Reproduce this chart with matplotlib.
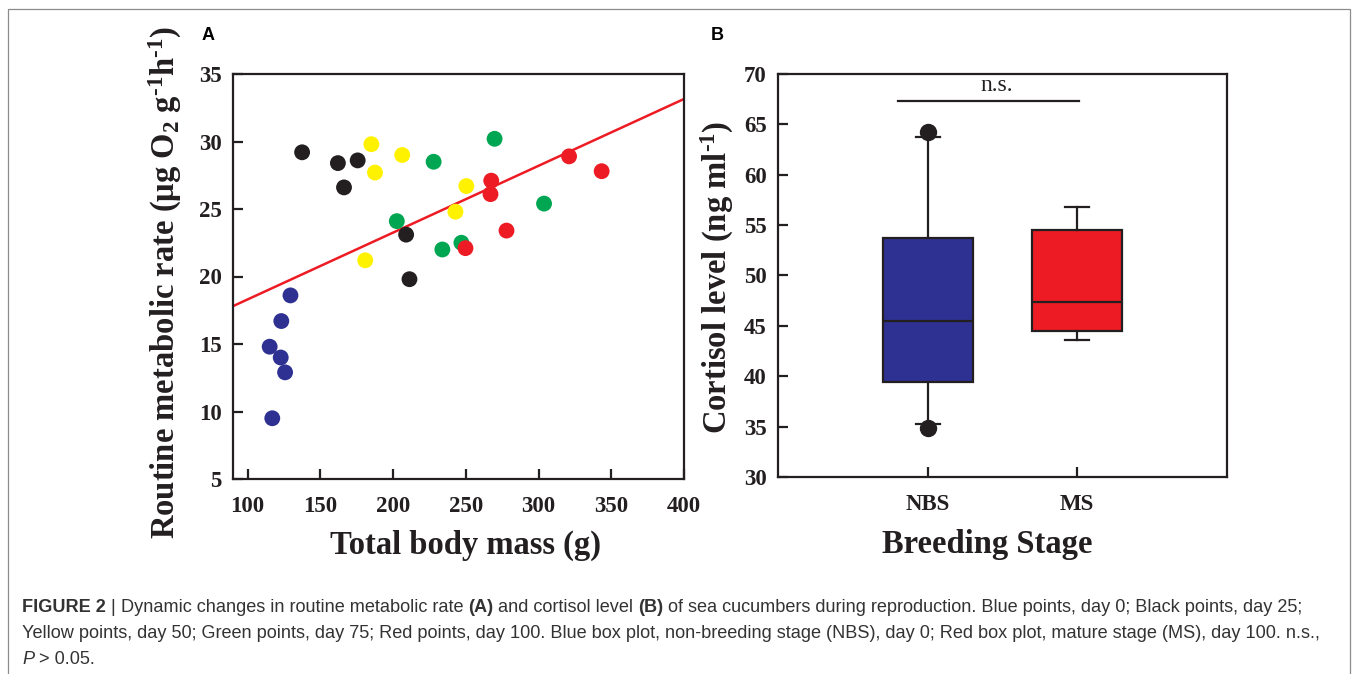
import numpy as np
import matplotlib
matplotlib.use('Agg')
import matplotlib.pyplot as plt
from matplotlib.patches import Rectangle

# Panel A data: total body mass (g) vs routine metabolic rate
mass_day0 = [115.2, 122.8, 125.8, 123.2, 129.5, 117.0]
rate_day0 = [14.8, 14.0, 12.9, 16.7, 18.6, 9.5]
mass_day25 = [137.5, 162.1, 175.7, 166.3, 209.0, 211.3]
rate_day25 = [29.2, 28.4, 28.6, 26.6, 23.1, 19.8]
mass_day50 = [185.1, 206.3, 187.6, 250.4, 242.9, 180.9]
rate_day50 = [29.8, 29.0, 27.7, 26.7, 24.8, 21.2]
mass_day75 = [269.8, 227.9, 202.6, 233.9, 247.0, 303.8]
rate_day75 = [30.2, 28.5, 24.1, 22.0, 22.5, 25.4]
mass_day100 = [321.0, 343.4, 267.5, 267.0, 278.0, 249.8]
rate_day100 = [28.9, 27.8, 27.1, 26.1, 23.4, 22.1]
fit_slope = 0.0495
fit_intercept = 13.35

# Panel B data: cortisol box plot summaries
stages = ['NBS', 'MS']
box_q1 = [39.4, 44.5]
box_med = [45.5, 47.4]
box_q3 = [53.7, 54.5]
whisker_lo = [35.3, 43.6]
whisker_hi = [63.7, 56.75]
outliers = [[64.2, 34.85], []]
ns_level = 67.3

BLUE = '#2E3192'
BLACK = '#231F20'
YELLOW = '#FFF200'
GREEN = '#00A651'
RED = '#ED1C24'

plt.rcParams['mathtext.fontset'] = 'custom'
plt.rcParams['mathtext.rm'] = 'Liberation Serif:bold'
plt.rcParams['mathtext.it'] = 'Liberation Serif:bold'
plt.rcParams['mathtext.bf'] = 'Liberation Serif:bold'

W, H = 1358, 674
fig = plt.figure(figsize=(W / 100, H / 100), dpi=100)

def fx(px):
    return px / W

def fy(py):
    return 1 - py / H

serif = 'Liberation Serif'
tick_fs = 16.5
label_fs = 23.5

def style_axes(ax):
    for s in ax.spines.values():
        s.set_linewidth(1.6)
        s.set_color(BLACK)
    ax.tick_params(direction='in', length=7, width=1.6, top=False, right=False,
                   labelsize=tick_fs, colors=BLACK, pad=8)
    for lab in ax.get_xticklabels() + ax.get_yticklabels():
        lab.set_fontfamily(serif)
        lab.set_fontweight('bold')

# ---- Panel A ----
axA = fig.add_axes([fx(233), fy(479), fx(684) - fx(233), fy(74) - fy(479)])
groups = [(mass_day0, rate_day0, BLUE), (mass_day25, rate_day25, BLACK),
          (mass_day50, rate_day50, YELLOW), (mass_day75, rate_day75, GREEN),
          (mass_day100, rate_day100, RED)]
for m, r, c in groups:
    axA.scatter(m, r, s=130, color=c, edgecolors='none', zorder=3)
xfit = np.array([90, 400])
axA.plot(xfit, fit_intercept + fit_slope * xfit, color=RED, lw=1.8, zorder=2)
axA.set_xlim(90, 400)
axA.set_ylim(5, 35)
axA.set_xticks(np.arange(100, 401, 50))
axA.set_yticks(np.arange(5, 36, 5))
style_axes(axA)
axA.tick_params(axis='x', pad=12)

fig.text(fx(466), fy(545), 'Total body mass (g)', ha='center', va='center',
         fontsize=label_fs, fontfamily=serif, fontweight='bold', color=BLACK)
fig.text(fx(165), fy(283), r'Routine metabolic rate (μg O$_2$ g$^{\text{-}1}$h$^{\text{-}1}$)',
         ha='center', va='center', rotation=90, fontsize=label_fs,
         fontfamily=serif, fontweight='bold', color=BLACK)
fig.text(fx(208), fy(36), 'A', ha='center', va='center', fontsize=13,
         fontfamily='Liberation Sans', fontweight='bold', color='black')

# ---- Panel B ----
axB = fig.add_axes([fx(778), fy(477), fx(1227) - fx(778), fy(74) - fy(477)])
stats = []
for i, name in enumerate(stages):
    stats.append(dict(label=name, q1=box_q1[i], med=box_med[i], q3=box_q3[i],
                      whislo=whisker_lo[i], whishi=whisker_hi[i],
                      fliers=outliers[i]))
bp = axB.bxp(stats, positions=[1, 2], widths=0.6, patch_artist=True,
             capwidths=0.16,
             boxprops=dict(linewidth=1.6, edgecolor=BLACK),
             medianprops=dict(color=BLACK, linewidth=1.6),
             whiskerprops=dict(color=BLACK, linewidth=1.6),
             capprops=dict(color=BLACK, linewidth=1.6),
             flierprops=dict(marker='o', markerfacecolor=BLACK,
                             markeredgecolor=BLACK, markersize=11.5))
for patch, c in zip(bp['boxes'], [BLUE, RED]):
    patch.set_facecolor(c)
axB.set_xlim(0, 3)
axB.set_ylim(30, 70)
axB.set_yticks(np.arange(30, 71, 5))
axB.set_xticks([1, 2])
axB.set_xticklabels(stages)
style_axes(axB)
axB.tick_params(axis='x', pad=12)
axB.plot([0.8, 2.01], [ns_level, ns_level], color=BLACK, lw=1.6)
axB.text(1.46, ns_level + 0.5, 'n.s.', ha='center', va='bottom', fontsize=17,
         fontfamily=serif, color=BLACK)

fig.text(fx(987), fy(545), 'Breeding Stage', ha='center', va='center',
         fontsize=label_fs, fontfamily=serif, fontweight='bold', color=BLACK)
fig.text(fx(717), fy(277), r'Cortisol level (ng ml$^{\text{-}1}$)', ha='center',
         va='center', rotation=90, fontsize=label_fs, fontfamily=serif,
         fontweight='bold', color=BLACK)
fig.text(fx(717), fy(36), 'B', ha='center', va='center', fontsize=13,
         fontfamily='Liberation Sans', fontweight='bold', color='black')

# ---- outer frame ----
fig.patches.append(Rectangle((fx(8), -0.05), fx(1350) - fx(8), fy(9) + 0.05,
                             transform=fig.transFigure, fill=False,
                             edgecolor='#8c8c8c', linewidth=0.9))

# ---- caption, built from runs of text ----
cap_fs = 13.1
cap_color = '#333333'
renderer = fig.canvas.get_renderer()

def space_width():
    t1 = fig.text(0, 0, 'a a', fontsize=cap_fs, fontfamily='Liberation Sans')
    t2 = fig.text(0, 0, 'aa', fontsize=cap_fs, fontfamily='Liberation Sans')
    w = t1.get_window_extent(renderer).width - t2.get_window_extent(renderer).width
    t1.remove()
    t2.remove()
    return w

sp = space_width()

def put_runs(x_px, y_px, runs):
    x = x_px
    for txt, weight, style in runs:
        if txt == ' ':
            x += sp
            continue
        t = fig.text(x / W, fy(y_px), txt, fontsize=cap_fs,
                     fontfamily='Liberation Sans', fontweight=weight,
                     style=style, color=cap_color, va='baseline')
        x = t.get_window_extent(renderer).x1

line1 = [('FIGURE 2', 'bold', 'normal'), (' ', '', ''),
         ('|', 'normal', 'normal'), (' ', '', ''),
         ('Dynamic changes in routine metabolic rate', 'normal', 'normal'),
         (' ', '', ''), ('(A)', 'bold', 'normal'), (' ', '', ''),
         ('and cortisol level', 'normal', 'normal'), (' ', '', ''),
         ('(B)', 'bold', 'normal'), (' ', '', ''),
         ('of sea cucumbers during reproduction. Blue points, day 0; Black points, day 25;',
          'normal', 'normal')]
line2 = [('Yellow points, day 50; Green points, day 75; Red points, day 100. '
          'Blue box plot, non-breeding stage (NBS), day 0; Red box plot, '
          'mature stage (MS), day 100. n.s.,', 'normal', 'normal')]
line3 = [('P', 'normal', 'italic'), (' ', '', ''), ('> 0.05.', 'normal', 'normal')]

put_runs(22, 612, line1)
put_runs(22, 638, line2)
put_runs(22, 664, line3)

fig.savefig('out.png', dpi=100)
